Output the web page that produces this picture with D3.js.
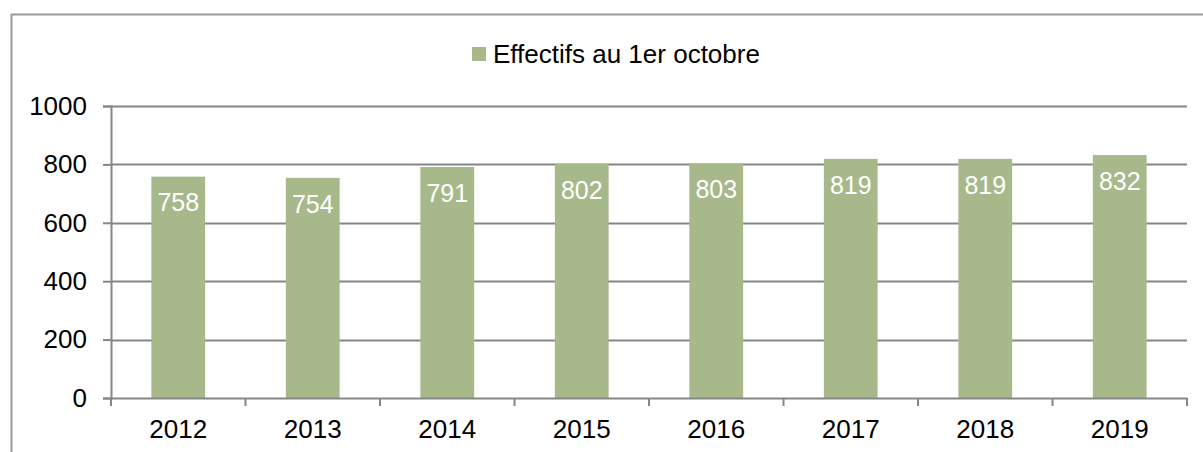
<!DOCTYPE html>
<html>
<head>
<meta charset="utf-8">
<script src="https://cdn.jsdelivr.net/npm/d3@7"></script>
<style>
  body { margin: 0; background: #fff; }
  svg { display: block; font-family: "Liberation Sans", Arial, sans-serif; }
</style>
</head>
<body>
<div id="chart"></div>
<script>
var years = ['2012', '2013', '2014', '2015', '2016', '2017', '2018', '2019'];
var effectifs = [758, 754, 791, 802, 803, 819, 819, 832];
var yTicks = [0, 200, 400, 600, 800, 1000];
var seriesName = 'Effectifs au 1er octobre';

var width = 1203, height = 452;
var margin = { left: 111, right: 16, top: 106, bottom: 54 };
var barColor = '#a7b88b';
var fontSize = '26px';

var svg = d3.select('#chart').append('svg')
    .attr('width', width)
    .attr('height', height);

// outer chart frame (cut off on right and bottom)
svg.append('rect')
    .attr('x', 11.5).attr('y', 14.5)
    .attr('width', width + 20).attr('height', height + 20)
    .attr('fill', 'none')
    .attr('stroke', '#9a9a9a')
    .attr('stroke-width', 2);

var x = d3.scaleBand()
    .domain(years)
    .range([margin.left, width - margin.right])
    .paddingInner(0.6)
    .paddingOuter(0.3);

var y = d3.scaleLinear()
    .domain([0, 1000])
    .range([height - margin.bottom, margin.top]);

// gridlines
svg.append('g')
    .selectAll('line')
    .data(yTicks.filter(function(d) { return d > 0; }))
    .join('line')
    .attr('x1', margin.left)
    .attr('x2', width - margin.right)
    .attr('y1', function(d) { return Math.round(y(d)) + 0.5; })
    .attr('y2', function(d) { return Math.round(y(d)) + 0.5; })
    .attr('stroke', '#868686')
    .attr('stroke-width', 2);

// bars
svg.append('g')
    .selectAll('rect')
    .data(effectifs)
    .join('rect')
    .attr('x', function(d, i) { return x(years[i]); })
    .attr('y', function(d) { return y(d); })
    .attr('width', x.bandwidth())
    .attr('height', function(d) { return y(0) - y(d); })
    .attr('fill', barColor);

// value labels
svg.append('g')
    .selectAll('text')
    .data(effectifs)
    .join('text')
    .attr('x', function(d, i) { return x(years[i]) + x.bandwidth() / 2; })
    .attr('y', function(d) { return y(d) + 26; })
    .attr('dy', '0.35em')
    .attr('text-anchor', 'middle')
    .attr('fill', '#fff')
    .attr('font-size', '25px')
    .text(function(d) { return d; });

// y axis
var yAxis = svg.append('g')
    .attr('transform', 'translate(' + margin.left + ',0)')
    .call(d3.axisLeft(y).tickValues(yTicks).tickSize(8).tickPadding(16).tickFormat(d3.format('d')));
yAxis.select('.domain').attr('stroke', '#868686').attr('stroke-width', 2);
yAxis.selectAll('.tick line').attr('stroke', '#868686').attr('stroke-width', 2);
yAxis.selectAll('.tick text').attr('font-size', fontSize).attr('fill', '#000').attr('font-family', null);

// x axis
var xAxis = svg.append('g')
    .attr('transform', 'translate(0,' + y(0) + ')')
    .call(d3.axisBottom(x).tickSize(0).tickPadding(22));
xAxis.select('.domain').attr('stroke', '#868686').attr('stroke-width', 2);
xAxis.selectAll('.tick text').attr('font-size', fontSize).attr('fill', '#000').attr('font-family', null);

// category separator ticks
var step = x.step();
svg.append('g')
    .selectAll('line')
    .data(d3.range(years.length + 1))
    .join('line')
    .attr('x1', function(i) { return margin.left + i * step; })
    .attr('x2', function(i) { return margin.left + i * step; })
    .attr('y1', y(0))
    .attr('y2', y(0) + 8)
    .attr('stroke', '#868686')
    .attr('stroke-width', 2);

// legend
var legend = svg.append('g').attr('transform', 'translate(472,47)');
legend.append('rect')
    .attr('width', 14).attr('height', 14)
    .attr('fill', barColor);
legend.append('text')
    .attr('x', 21).attr('y', 7)
    .attr('dy', '0.35em')
    .attr('font-size', fontSize)
    .attr('fill', '#000')
    .text(seriesName);
</script>
</body>
</html>
